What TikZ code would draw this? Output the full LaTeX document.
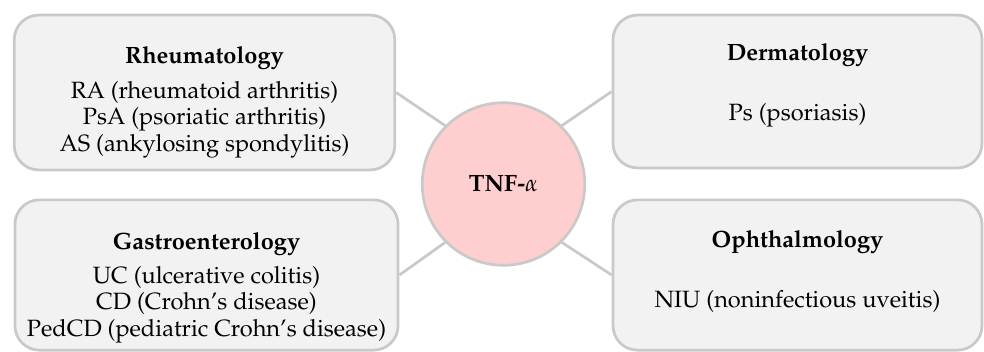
\documentclass[tikz,border=0pt]{standalone}
\usepackage[T1]{fontenc}
\usepackage{mathpazo}
\usepackage{amsmath}
\usepackage{tikz}
\usetikzlibrary{positioning, shapes}

\definecolor{boxfill}{HTML}{F2F2F2}
\definecolor{boxline}{HTML}{C9C9C9}
\definecolor{tnffill}{HTML}{FFCFCF}

\newcommand{\headline}[2]{\rule{0pt}{#1}\textbf{#2}}

\tikzset{
  area/.style={draw=boxline, fill=boxfill, line width=1.2pt, rounded corners=0.38cm,
               align=center, inner sep=0pt, font=\fontsize{10.4}{11.8}\selectfont},
  link/.style={draw=boxline, line width=1.2pt}
}

\begin{document}
\begin{tikzpicture}[x=0.0155cm, y=-0.0155cm]

\useasboundingbox (0,0) rectangle (984,351);

\node [draw=boxline, fill=tnffill, circle, line width=1.2pt, minimum size=2.52cm, font=\fontsize{10.4}{12}\selectfont] (tnf) at (503.5,184) {\textbf{TNF-}$\alpha$};

\node [area, minimum width=5.9cm , minimum height=2.4cm ] (rheu)   at (204.5, 92.5) {\headline{16pt}{Rheumatology}\\[3.6pt] RA (rheumatoid arthritis)\\ PsA (psoriatic arthritis)\\ AS (ankylosing spondylitis)};
\node [area, minimum width=5.94cm, minimum height=2.33cm] (gastro) at (206.5,275) {\headline{19pt}{Gastroenterology}\\[2.8pt] UC (ulcerative colitis)\\ CD (Crohn's disease)\\ PedCD (pediatric Crohn's disease)};
\node [area, minimum width=5.72cm, minimum height=2.37cm] (derm)   at (797.5, 91.5) {\headline{11pt}{Dermatology}\\[2.8pt] \mbox{}\\ Ps (psoriasis)\\ \mbox{}};
\node [area, minimum width=5.72cm, minimum height=2.33cm] (ophth)  at (797.5,275) {\headline{14pt}{Ophthalmology}\\[2.8pt] \mbox{}\\ NIU (noninfectious uveitis)\\ \mbox{}};

\path [link] (rheu.east)   -- (tnf.135);
\path [link] (derm.west)   -- (tnf.45);
\path [link] (gastro.east) -- (tnf.225);
\path [link] (ophth.west)  -- (tnf.315);

\end{tikzpicture}
\end{document}
